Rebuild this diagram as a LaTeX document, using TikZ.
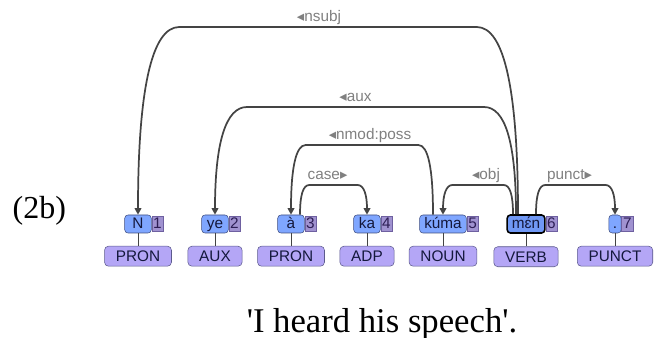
\documentclass[tikz,border=0pt]{standalone}
\usepackage{fontspec}
\setsansfont{Liberation Sans}
\newfontfamily\trifont{DejaVu Sans}
\newfontfamily\glossfont{Liberation Serif}[Ligatures=TeXOff]
\usetikzlibrary{positioning,calc,arrows.meta}

\definecolor{wordfill}{RGB}{127,166,255}
\definecolor{wordsel}{RGB}{112,152,245}
\definecolor{wordline}{RGB}{62,78,128}
\definecolor{wordtext}{RGB}{20,24,60}
\definecolor{numfill}{RGB}{160,146,208}
\definecolor{numline}{RGB}{110,96,160}
\definecolor{numtext}{RGB}{45,30,85}
\definecolor{posfill}{RGB}{180,166,246}
\definecolor{posline}{RGB}{92,90,140}
\definecolor{arccol}{RGB}{68,68,68}
\definecolor{labelcol}{RGB}{128,128,128}

\tikzset{
  boxfont/.style={font=\sffamily\fontsize{11.5}{11.5}\selectfont},
  wordbox/.style={boxfont, draw=wordline, fill=wordfill, text=wordtext,
    rounded corners=2.5pt, minimum height=13.5pt, minimum width=20pt,
    text height=8.4pt, text depth=2.2pt, inner xsep=3.5pt, inner ysep=0pt},
  selbox/.style={wordbox, draw=black, fill=wordsel, line width=1.2pt},
  numbox/.style={boxfont, draw=numline, fill=numfill, text=numtext,
    text height=8.4pt, text depth=1pt, minimum height=11pt,
    inner xsep=1pt, inner ysep=0pt, anchor=west},
  posbox/.style={boxfont, draw=posline, fill=posfill, text=wordtext,
    rounded corners=3pt, minimum height=15pt, text height=8.4pt, text depth=0pt,
    inner xsep=8.5pt, inner ysep=0pt},
  stem/.style={draw=arccol, line width=0.7pt},
  arcline/.style={draw=arccol, line width=1.3pt,
    -{Triangle[length=5pt,width=5pt]}},
  arclabel/.style={boxfont, text=labelcol, anchor=base, inner sep=0pt},
}

\newcommand\lt{{\trifont\fontsize{11}{11}\selectfont ◂}}
\newcommand\rt{{\trifont\fontsize{11}{11}\selectfont ▸}}

% head, dependent, top y, corner, label shift, label
\newcommand\deparc[6]{%
  \path (#1) coordinate (arcA) (#2) coordinate (arcB);
  \coordinate (topA) at (arcA |- 0,#3);
  \coordinate (topB) at (arcB |- 0,#3);
  \draw[arcline] (arcA)
    .. controls ($(arcA)!.667!(topA)$) and ($(topA)!#4/3!(topB)$) .. ($(topA)!#4!(topB)$)
    -- ($(topB)!#4!(topA)$)
    .. controls ($(topB)!#4/3!(topA)$) and ($(arcB)!.667!(topB)$) .. (arcB);
  \node[arclabel] at ($(topA)!.5!(topB)+(#5,-5)$) {#6};
}

\begin{document}
\begin{tikzpicture}[x=0.75pt,y=-0.75pt]
  \useasboundingbox (0,0) rectangle (656,338);

  % Example number
  \node[anchor=base west, font=\glossfont\fontsize{24}{28}\selectfont] (exnum) at (8,219) {(2b)};

  % Words
  \node[wordbox] (w1) at (138,224) {N};
  \node[wordbox] (w2) at (215,224) {ye};
  \node[wordbox] (w3) at (291,224) {à};
  \node[wordbox] (w4) at (367,224) {ka};
  \node[wordbox] (w5) at (443,224) {kúma};
  \node[selbox] (w6) at (526,224) {mɛ́n};
  \node[wordbox, minimum width=0pt, inner xsep=3pt] (w7) at (615,224) {.};

  % Token numbers
  \foreach \i in {1,...,7}{
    \node[numbox] (n\i) at (w\i.east) {\i};
  }

  % Part of speech tags
  \node[posbox, below=9.5pt of w1] (p1) {PRON};
  \node[posbox, below=9.5pt of w2] (p2) {AUX};
  \node[posbox, below=9.5pt of w3] (p3) {PRON};
  \node[posbox, below=9.5pt of w4] (p4) {ADP};
  \node[posbox, below=9.5pt of w5] (p5) {NOUN};
  \node[posbox, below=9.5pt of w6] (p6) {VERB};
  \node[posbox, below=9.5pt of w7] (p7) {PUNCT};
  \foreach \i in {1,...,7}{
    \draw[stem] (w\i) -- (p\i);
  }

  % Dependency arcs
  \deparc{$(w6.north)+(-8,0)$}{w1.north}{27}{31pt}{-9}{\lt nsubj}
  \deparc{$(w6.north)+(-10,0)$}{w2.north}{107}{24pt}{-10}{\lt aux}
  \deparc{$(w5.north)+(-10,0)$}{w3.north}{145}{11pt}{8}{\lt nmod:poss}
  \deparc{$(w3.north)+(9,0)$}{w4.north}{185}{7pt}{-6}{case\rt}
  \deparc{$(w6.north)+(-13,0)$}{w5.north}{185}{7pt}{8}{\lt obj}
  \deparc{$(w6.north)+(10,0)$}{w7.north}{185}{7pt}{-6}{punct\rt}

  % Translation
  \node[anchor=base, font=\glossfont\fontsize{26}{30}\selectfont] (gloss) at (382,332) {'I heard his speech'.};
\end{tikzpicture}
\end{document}
